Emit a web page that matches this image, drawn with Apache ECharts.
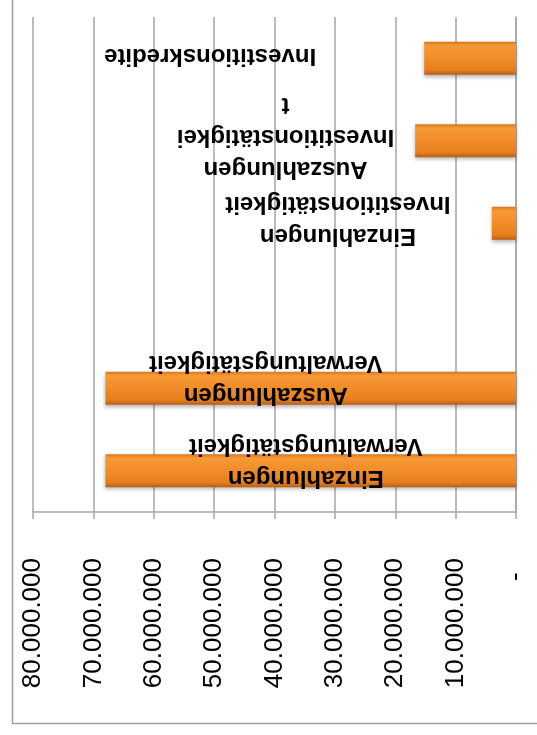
<!DOCTYPE html>
<html>
<head>
<meta charset="utf-8">
<script src="https://cdn.jsdelivr.net/npm/echarts@6/dist/echarts.min.js"></script>
<style>
html,body{margin:0;padding:0;background:#fff;}
#c{width:537px;height:735px;}
</style>
</head>
<body>
<div id="c"></div>
<script>
// Categories (first = bottom of the upside-down chart)
const categories = [
  'Einzahlungen Verwaltungstätigkeit',
  'Auszahlungen Verwaltungstätigkeit',
  '',
  'Einzahlungen Investitionstätigkeit',
  'Auszahlungen Investitionstätigkeit',
  'Investitionskredite'
];
// Label texts as wrapped in the picture
const labelTexts = [
  'Einzahlungen\nVerwaltungstätigkeit',
  'Auszahlungen\nVerwaltungstätigkeit',
  '',
  'Einzahlungen\nInvestitionstätigkeit',
  'Auszahlungen\nInvestitionstätigkei\nt',
  'Investitionskredite'
];
// Values in EUR
const values = [68000000, 68000000, null, 4000000, 16700000, 15200000];
// Axis ticks
const axisMin = 0, axisMax = 80000000, axisStep = 10000000;

// label offsets (pixels, relative to bar centre)
const labelOffsets = [[-5,-9],[-45,-10],[0,0],[-166,-4],[-180,-4],[-260,-3]];

function fmt(v){
  if (v === 0) return '-  ';
  return String(v).replace(/\B(?=(\d{3})+(?!\d))/g, '.');
}

const chart = echarts.init(document.getElementById('c'), null, {renderer:'canvas'});
const barColor = new echarts.graphic.LinearGradient(0,0,0,1,[
  {offset:0, color:'#D9761E'},
  {offset:0.12, color:'#F59A36'},
  {offset:0.5, color:'#F28C27'},
  {offset:0.85, color:'#E6801F'},
  {offset:1, color:'#B85E17'}
]);
chart.setOption({
  animation:false,
  backgroundColor:'#fff',
  graphic:[{
    type:'rect', left:10, top:-10,
    shape:{width:540, height:731},
    style:{fill:'none', stroke:'#A0A0A0', lineWidth:1.5},
    silent:true
  }],
  grid:{left:33, right:21, top:17, bottom:223, containLabel:false},
  xAxis:{
    type:'value', inverse:true, min:axisMin, max:axisMax, interval:axisStep,
    position:'bottom',
    axisLine:{show:true, lineStyle:{color:'#A6A6A6', width:1.5}},
    axisTick:{show:true, length:7, lineStyle:{color:'#A6A6A6', width:1.5}},
    splitLine:{show:true, lineStyle:{color:'#A6A6A6', width:1.5}},
    axisLabel:{
      rotate:90, margin:46, color:'#000',
      fontFamily:'Liberation Sans, Arial', fontSize:26,
      formatter:fmt
    }
  },
  yAxis:{
    type:'category', data:categories, position:'right',
    axisLine:{show:true, onZero:false, lineStyle:{color:'#A6A6A6', width:1.5}},
    axisTick:{show:false},
    axisLabel:{show:false}
  },
  series:[{
    type:'bar',
    barWidth:33,
    data: values.map((v,i)=>({
      value:v,
      label:{offset:[-labelOffsets[i][0], -labelOffsets[i][1]]}
    })),
    itemStyle:{
      color:barColor,
      shadowColor:'rgba(0,0,0,0.3)', shadowBlur:4, shadowOffsetY:2
    },
    label:{
      show:true, position:'inside', rotate:180,
      color:'#000', fontWeight:'bold',
      fontFamily:'Liberation Sans, Arial', fontSize:24, lineHeight:32,
      align:'center', verticalAlign:'middle',
      formatter:(p)=>labelTexts[p.dataIndex]
    }
  }]
});
</script>
</body>
</html>
